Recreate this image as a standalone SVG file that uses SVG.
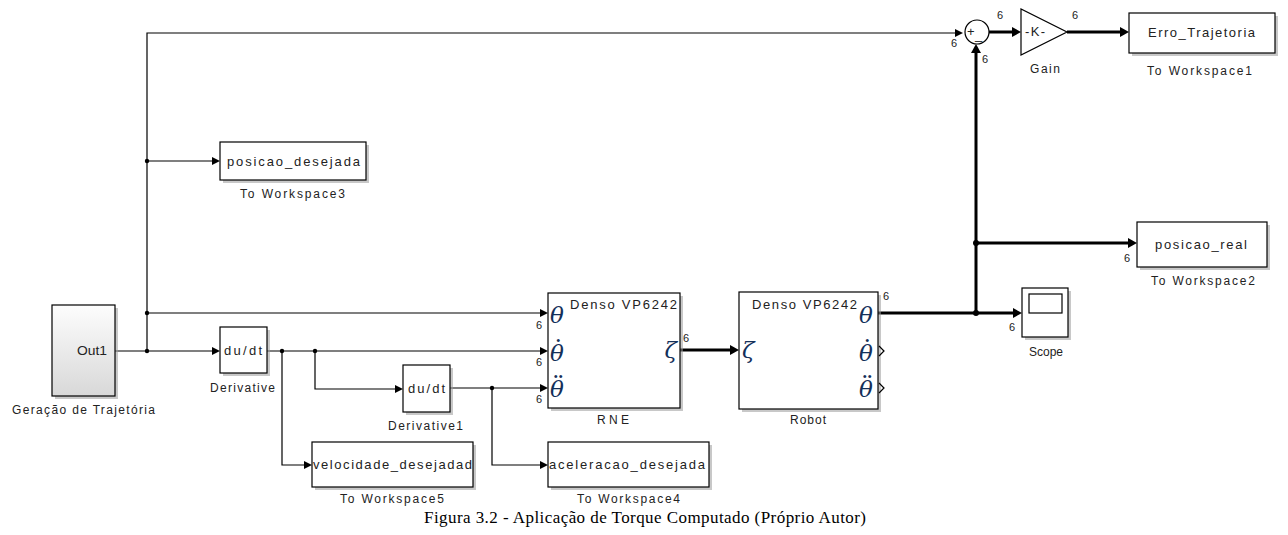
<svg xmlns="http://www.w3.org/2000/svg" width="1288" height="535" viewBox="0 0 1288 535">
<style>
.blk{fill:#fff;stroke:#000;stroke-width:1.2}
.sh{fill:#9a9a9a;opacity:0.55}
.t{font-family:"Liberation Sans",Arial,sans-serif;font-size:13px;fill:#222}
.lb{font-family:"Liberation Sans",Arial,sans-serif;font-size:12px;fill:#222}
.n{font-family:"Liberation Sans",Arial,sans-serif;font-size:11px;fill:#222}
.m{font-family:"DejaVu Serif","Liberation Serif",serif;font-style:italic;font-size:23px;fill:#14305a}
.d{font-style:normal;font-size:26px}
.c{text-anchor:middle}
.e{text-anchor:end}
.w{fill:none;stroke:#000;stroke-width:1.2}
.k{fill:none;stroke:#000;stroke-width:3}
</style>
<defs>
<marker id="a" markerUnits="userSpaceOnUse" markerWidth="8" markerHeight="8" refX="0" refY="4" orient="auto" viewBox="0 0 8 8"><path d="M0,0 L8,4 L0,8 z" fill="#000"/></marker>
<marker id="ak" markerUnits="userSpaceOnUse" markerWidth="9" markerHeight="10" refX="0" refY="5" orient="auto" viewBox="0 0 9 10"><path d="M0,0 L9,5 L0,10 z" fill="#000"/></marker>
<linearGradient id="g" x1="0" y1="0" x2="0" y2="1"><stop offset="0" stop-color="#fdfdfd"/><stop offset="1" stop-color="#d8d8d8"/></linearGradient>
</defs>

<g id="connectors">
<path class="w" d="M115,351 H212" marker-end="url(#a)"/>
<path class="w" d="M147,351 V33 H955" marker-end="url(#a)"/>
<path class="w" d="M147,161 H212" marker-end="url(#a)"/>
<path class="w" d="M147,313 H540" marker-end="url(#a)"/>
<path class="w" d="M267,351 H540" marker-end="url(#a)"/>
<path class="w" d="M282,351 V465 H304" marker-end="url(#a)"/>
<path class="w" d="M315,351 V389 H395" marker-end="url(#a)"/>
<path class="w" d="M450,388 H540" marker-end="url(#a)"/>
<path class="w" d="M492,388 V465 H540" marker-end="url(#a)"/>
<path class="k" d="M680,350 H730" marker-end="url(#ak)"/>
<path class="k" d="M878,313 H1013" marker-end="url(#ak)"/>
<path class="k" d="M976,313 V53" marker-end="url(#ak)"/>
<path class="k" d="M976,243 H1128" marker-end="url(#ak)"/>
<path class="k" d="M989,32 H1012" marker-end="url(#ak)"/>
<path class="k" d="M1067,32 H1120" marker-end="url(#ak)"/>
<circle cx="147" cy="161" r="2.2"/>
<circle cx="147" cy="313" r="2.2"/>
<circle cx="147" cy="351" r="2.2"/>
<circle cx="282" cy="351" r="2.2"/>
<circle cx="315" cy="351" r="2.2"/>
<circle cx="492" cy="388" r="2.2"/>
<circle cx="976" cy="243" r="3"/>
<circle cx="976" cy="313" r="3"/>
<text class="n" x="951" y="47">6</text>
<text class="n" x="997" y="19">6</text>
<text class="n" x="982" y="63">6</text>
<text class="n" x="1072" y="19">6</text>
<text class="n" x="1124" y="262">6</text>
<text class="n" x="1009" y="331">6</text>
<text class="n" x="883" y="300">6</text>
<text class="n" x="683" y="342">6</text>
<text class="n" x="536" y="329">6</text>
<text class="n" x="536" y="366">6</text>
<text class="n" x="536" y="403">6</text>
</g>

<g id="gen">
<rect x="55" y="308" width="63" height="91" class="sh"/>
<rect x="52" y="305" width="63" height="91" fill="url(#g)" stroke="#000" stroke-width="1.2"/>
<text class="t" x="77" y="355" textLength="30" lengthAdjust="spacingAndGlyphs">Out1</text>
<text class="lb" x="12" y="414" textLength="143">Geração de Trajetória</text>
</g>

<g id="derivative">
<rect x="223" y="330" width="47" height="46" class="sh"/>
<rect x="220" y="327" width="47" height="46" class="blk"/>
<text class="t" x="224" y="355" textLength="38">du/dt</text>
<text class="lb" x="210" y="392" textLength="65">Derivative</text>
</g>

<g id="derivative1">
<rect x="406" y="368" width="47" height="47" class="sh"/>
<rect x="403" y="365" width="47" height="47" class="blk"/>
<text class="t" x="408" y="393" textLength="37">du/dt</text>
<text class="lb" x="388" y="430" textLength="75">Derivative1</text>
</g>

<g id="ws3">
<rect x="223" y="145" width="146" height="38" class="sh"/>
<rect x="220" y="142" width="146" height="38" class="blk"/>
<text class="t" x="227" y="166" textLength="133">posicao_desejada</text>
<text class="lb" x="240" y="198" textLength="105">To Workspace3</text>
</g>

<g id="ws5">
<rect x="315" y="445" width="161" height="45" class="sh"/>
<rect x="312" y="442" width="161" height="45" class="blk"/>
<text class="t" x="313" y="469" textLength="159">velocidade_desejadad</text>
<text class="lb" x="340" y="503" textLength="104">To Workspace5</text>
</g>

<g id="ws4">
<rect x="551" y="445" width="161" height="45" class="sh"/>
<rect x="548" y="442" width="161" height="45" class="blk"/>
<text class="t" x="549" y="469" textLength="156">aceleracao_desejada</text>
<text class="lb" x="577" y="503" textLength="103">To Workspace4</text>
</g>

<g id="rne">
<rect x="551" y="296" width="132" height="115" class="sh"/>
<rect x="548" y="293" width="132" height="115" class="blk"/>
<text class="t" x="570" y="309" textLength="107">Denso VP6242</text>
<text class="m" x="550" y="323">θ</text>
<text class="m" x="550" y="361">θ<tspan class="d" dx="-12" dy="-2">˙</tspan></text>
<text class="m" x="550" y="397">θ<tspan class="d" dx="-12" dy="-2">¨</tspan></text>
<text class="m e" x="677" y="358">ζ</text>
<text class="lb" x="597" y="424" textLength="32">RNE</text>
</g>

<g id="robot">
<rect x="742" y="295" width="139" height="117" class="sh"/>
<rect x="739" y="292" width="139" height="117" class="blk"/>
<text class="t" x="752" y="309" textLength="105">Denso VP6242</text>
<text class="m" x="859" y="323">θ</text>
<text class="m" x="859" y="361">θ<tspan class="d" dx="-12" dy="-2">˙</tspan></text>
<text class="m" x="859" y="397">θ<tspan class="d" dx="-12" dy="-2">¨</tspan></text>
<text class="m" x="742" y="358">ζ</text>
<path d="M879,346 L884,351 L879,356" fill="none" stroke="#000" stroke-width="1.2"/>
<path d="M879,383 L884,388 L879,393" fill="none" stroke="#000" stroke-width="1.2"/>
<text class="lb" x="790" y="424" textLength="36">Robot</text>
</g>

<g id="sum">
<circle cx="977" cy="32" r="12" class="blk"/>
<text class="t" x="967" y="36">+</text>
<text class="t" x="975" y="39">_</text>
</g>

<g id="gain">
<polygon points="1021,9 1021,55 1067,32" class="blk"/>
<text class="t" x="1025" y="36" textLength="20">-K-</text>
<text class="lb" x="1030" y="73" textLength="30">Gain</text>
</g>

<g id="ws1">
<rect x="1132" y="16" width="146" height="40" class="sh"/>
<rect x="1129" y="13" width="146" height="40" class="blk"/>
<text class="t" x="1148" y="37" textLength="107">Erro_Trajetoria</text>
<text class="lb" x="1147" y="75" textLength="105">To Workspace1</text>
</g>

<g id="ws2">
<rect x="1140" y="225" width="130" height="45" class="sh"/>
<rect x="1137" y="222" width="130" height="45" class="blk"/>
<text class="t" x="1155" y="249" textLength="92">posicao_real</text>
<text class="lb" x="1151" y="285" textLength="104">To Workspace2</text>
</g>

<g id="scope">
<rect x="1025" y="291" width="46" height="49" class="sh"/>
<rect x="1022" y="288" width="46" height="49" class="blk"/>
<rect x="1029" y="294" width="33" height="19" fill="#fff" stroke="#000" stroke-width="1.2"/>
<text class="lb" x="1029" y="356" textLength="34">Scope</text>
</g>

<text x="424" y="523" font-family="Liberation Serif,'Times New Roman',serif" font-size="17" fill="#000" textLength="442">Figura 3.2 - Aplicação de Torque Computado  (Próprio Autor)</text>
</svg>
